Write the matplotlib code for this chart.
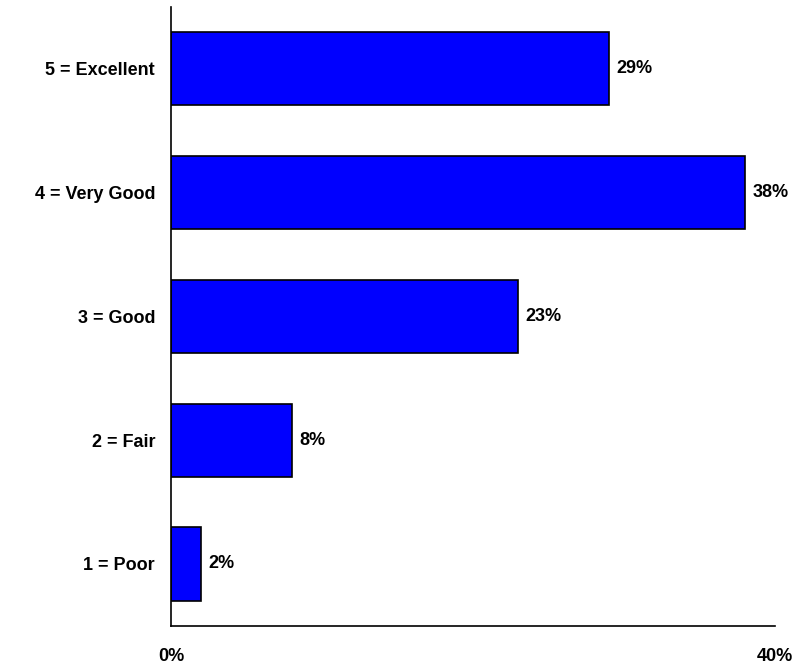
import matplotlib.pyplot as plt

# ratings, bottom to top
categorias = ["1 = Poor", "2 = Fair", "3 = Good", "4 = Very Good", "5 = Excellent"]
porcentajes = [2, 8, 23, 38, 29]

plt.rcParams['font.family'] = ['Liberation Sans', 'DejaVu Sans']
plt.rcParams['font.weight'] = 'bold'

fig = plt.figure(figsize=(7.99, 6.68), dpi=100)
ax = fig.add_axes([0.214, 0.063, 0.756, 0.927])

pos = range(len(categorias))
ax.barh(pos, porcentajes, height=0.59, color='#0000FF', edgecolor='black', linewidth=1.2)

for p, v in zip(pos, porcentajes):
    ax.text(v + 0.5, p, str(v) + "%", va='center', ha='left', fontsize=13, fontweight='bold')

ax.set_xlim(0, 40)
ax.set_ylim(-0.5, 4.5)
ax.set_yticks(list(pos))
ax.set_yticklabels(categorias, fontsize=13, fontweight='bold')
ax.set_xticks([0, 40])
ax.set_xticklabels(["0%", "40%"], fontsize=13, fontweight='bold')
ax.tick_params(axis='both', length=0)
ax.tick_params(axis='x', pad=16)
ax.tick_params(axis='y', pad=11.5)
ax.spines['top'].set_visible(False)
ax.spines['right'].set_visible(False)
ax.spines['left'].set_linewidth(1.2)
ax.spines['bottom'].set_linewidth(1.2)

fig.savefig("out.png", dpi=100)
